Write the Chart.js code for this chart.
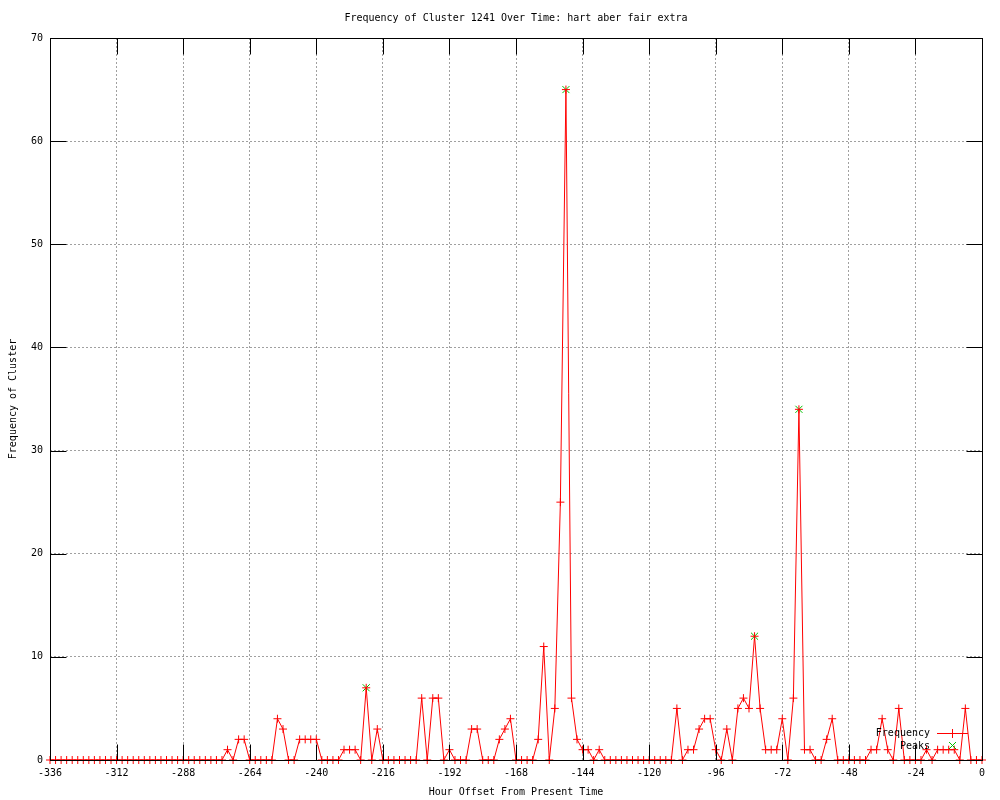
<!DOCTYPE html>
<html>
<head>
<meta charset="utf-8">
<script src="https://cdn.jsdelivr.net/npm/chart.js@4/dist/chart.umd.min.js"></script>
<style>
  html, body { margin: 0; padding: 0; background: #ffffff; }
  canvas { display: block; }
</style>
</head>
<body>
<canvas id="c" width="1000" height="800"></canvas>
<script>
const chartTitle = 'Frequency of Cluster 1241 Over Time: hart aber fair extra';
const xAxisTitle = 'Hour Offset From Present Time';
const yAxisTitle = 'Frequency of Cluster';
const seriesNames = ['Frequency', 'Peaks'];

const hours = [
  -336,-334,-332,-330,-328,-326,-324,-322,-320,-318,-316,-314,-312,-310,-308,-306,-304,-302,-300,-298,
  -296,-294,-292,-290,-288,-286,-284,-282,-280,-278,-276,-274,-272,-270,-268,-266,-264,-262,-260,-258,
  -256,-254,-252,-250,-248,-246,-244,-242,-240,-238,-236,-234,-232,-230,-228,-226,-224,-222,-220,-218,
  -216,-214,-212,-210,-208,-206,-204,-202,-200,-198,-196,-194,-192,-190,-188,-186,-184,-182,-180,-178,
  -176,-174,-172,-170,-168,-166,-164,-162,-160,-158,-156,-154,-152,-150,-148,-146,-144,-142,-140,-138,
  -136,-134,-132,-130,-128,-126,-124,-122,-120,-118,-116,-114,-112,-110,-108,-106,-104,-102,-100,-98,
  -96,-94,-92,-90,-88,-86,-84,-82,-80,-78,-76,-74,-72,-70,-68,-66,-64,-62,-60,-58,
  -56,-54,-52,-50,-48,-46,-44,-42,-40,-38,-36,-34,-32,-30,-28,-26,-24,-22,-20,-18,
  -16,-14,-12,-10,-8,-6,-4,-2,0
];

const frequency = [
  0,0,0,0,0,0,0,0,0,0,0,0,0,0,0,0,0,0,0,0,
  0,0,0,0,0,0,0,0,0,0,0,0,1,0,2,2,0,0,0,0,
  0,4,3,0,0,2,2,2,2,0,0,0,0,1,1,1,0,7,0,3,
  0,0,0,0,0,0,0,6,0,6,6,0,1,0,0,0,3,3,0,0,
  0,2,3,4,0,0,0,0,2,11,0,5,25,65,6,2,1,1,0,1,
  0,0,0,0,0,0,0,0,0,0,0,0,0,5,0,1,1,3,4,4,
  1,0,3,0,5,6,5,12,5,1,1,1,4,0,6,34,1,1,0,0,
  2,4,0,0,0,0,0,0,1,1,4,1,0,5,0,0,0,0,1,0,
  1,1,1,1,0,5,0,0,0
];

const peakHours = [-222, -150, -82, -66];
const peakValues = [7, 65, 12, 34];

const xTicks = { min: -336, max: 0, step: 24 };
const yTicks = { min: 0, max: 70, step: 10 };

const FONT = { family: '"DejaVu Sans Mono", monospace', size: 10 };
const FONT_CSS = '10px "DejaVu Sans Mono", monospace';

const freqPoints = hours.map((h, i) => ({ x: h, y: frequency[i] }));
const peakPoints = peakHours.map((h, i) => ({ x: h, y: peakValues[i] }));

const framePlugin = {
  id: 'gnuFrame',
  afterDatasetsDraw(chart) {
    const ctx = chart.ctx;
    const a = chart.chartArea;
    const xs = chart.scales.x, ys = chart.scales.y;
    const L = Math.round(a.left) + 0.5, R = Math.round(a.right) + 0.5;
    const T = Math.round(a.top) + 0.5, B = Math.round(a.bottom) + 0.5;
    const tl = 16;
    ctx.save();
    ctx.strokeStyle = '#000000';
    ctx.lineWidth = 1;
    ctx.beginPath();
    xs.ticks.forEach(t => {
      const px = Math.round(xs.getPixelForValue(t.value)) + 0.5;
      ctx.moveTo(px, B); ctx.lineTo(px, B - tl);
      ctx.moveTo(px, T); ctx.lineTo(px, T + tl);
    });
    ys.ticks.forEach(t => {
      const py = Math.round(ys.getPixelForValue(t.value)) + 0.5;
      ctx.moveTo(L, py); ctx.lineTo(L + tl, py);
      ctx.moveTo(R, py); ctx.lineTo(R - tl, py);
    });
    ctx.stroke();
    ctx.strokeRect(L, T, R - L, B - T);

    // title centred over the plot area
    ctx.fillStyle = '#000000';
    ctx.font = FONT_CSS;
    ctx.textAlign = 'center';
    ctx.textBaseline = 'middle';
    ctx.fillText(chartTitle, (a.left + a.right) / 2, 18);

    // key (legend) inside the plot, bottom right
    ctx.textAlign = 'right';
    ctx.fillText(seriesNames[0], 930, 733);
    ctx.fillText(seriesNames[1], 930, 746);
    ctx.strokeStyle = '#ff0000';
    ctx.beginPath();
    ctx.moveTo(937, 733.5); ctx.lineTo(968, 733.5);
    ctx.moveTo(952.5, 729); ctx.lineTo(952.5, 738);
    ctx.stroke();
    ctx.strokeStyle = '#00c000';
    ctx.beginPath();
    ctx.moveTo(949, 742); ctx.lineTo(956, 749);
    ctx.moveTo(956, 742); ctx.lineTo(949, 749);
    ctx.stroke();
    ctx.restore();
  }
};

new Chart(document.getElementById('c'), {
  type: 'line',
  data: {
    datasets: [
      {
        label: seriesNames[0],
        data: freqPoints,
        borderColor: '#ff0000',
        backgroundColor: '#ff0000',
        borderWidth: 1,
        tension: 0,
        fill: false,
        pointStyle: 'cross',
        pointRadius: 4,
        pointBorderColor: '#ff0000',
        pointBorderWidth: 1,
        clip: false
      },
      {
        label: seriesNames[1],
        data: peakPoints,
        showLine: false,
        borderColor: '#00c000',
        backgroundColor: '#00c000',
        pointStyle: 'crossRot',
        pointRadius: 5,
        pointBorderColor: '#00c000',
        pointBorderWidth: 1,
        clip: false
      }
    ]
  },
  options: {
    responsive: false,
    animation: false,
    devicePixelRatio: 1,
    layout: { padding: { left: 0, right: 18, top: 38, bottom: 0 } },
    plugins: {
      legend: { display: false },
      title: { display: false },
      tooltip: { enabled: false }
    },
    scales: {
      x: {
        type: 'linear',
        min: xTicks.min,
        max: xTicks.max,
        ticks: {
          stepSize: xTicks.step,
          autoSkip: false,
          maxRotation: 0,
          padding: 7,
          color: '#000000',
          font: FONT,
          callback: v => String(v)
        },
        grid: { color: '#a0a0a0', lineWidth: 1, drawTicks: false },
        border: { display: false, dash: [2, 2] },
        title: {
          display: true,
          text: xAxisTitle,
          color: '#000000',
          font: FONT,
          padding: { top: 0, bottom: 2 }
        },
        afterFit(s) { s.height = 40; }
      },
      y: {
        type: 'linear',
        min: yTicks.min,
        max: yTicks.max,
        ticks: {
          stepSize: yTicks.step,
          padding: 7,
          color: '#000000',
          font: FONT,
          callback: v => String(v)
        },
        grid: { color: '#a0a0a0', lineWidth: 1, drawTicks: false },
        border: { display: false, dash: [2, 2] },
        title: {
          display: true,
          text: yAxisTitle,
          color: '#000000',
          font: FONT,
          padding: { top: 7, bottom: 0 }
        },
        afterFit(s) { s.width = 50; }
      }
    }
  },
  plugins: [framePlugin]
});
</script>
</body>
</html>
